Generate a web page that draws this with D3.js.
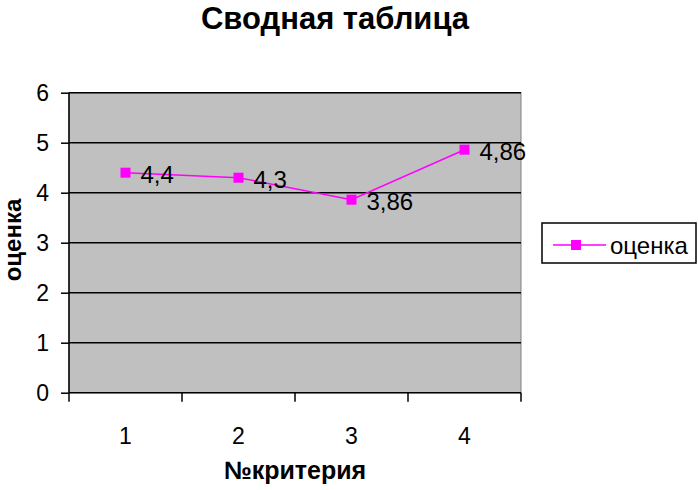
<!DOCTYPE html>
<html><head><meta charset="utf-8">
<script src="https://cdn.jsdelivr.net/npm/d3@7"></script>
<style>body{margin:0;background:#fff}svg{display:block}text{font-family:Arial,"Liberation Sans",sans-serif}</style>
</head><body><svg id="c" width="698" height="490"></svg>
<script>
const categories = ["1","2","3","4"];
const values = [4.4, 4.3, 3.86, 4.86];
const labels = ["4,4","4,3","3,86","4,86"];
const yTicks = [0,1,2,3,4,5,6];
const seriesName = "оценка";

const svg = d3.select("#c");
const L = 69, R = 521, T = 92.7, B = 392.7;
const x = d3.scaleBand().domain(categories).range([L, R]);
const y = d3.scaleLinear().domain([0, 6]).range([B, T]);
const FF = "Arial, 'Liberation Sans', sans-serif";

svg.append("rect").attr("x", L).attr("y", T).attr("width", R - L).attr("height", B - T)
  .attr("fill", "#c0c0c0").attr("stroke", "#808080").attr("stroke-width", 1);

// gridlines
svg.append("g").selectAll("line").data(yTicks.filter(d => d > 0)).join("line")
  .attr("x1", L).attr("x2", R).attr("y1", d => y(d)).attr("y2", d => y(d))
  .attr("stroke", "#000").attr("stroke-width", 1.5);

// y axis
const ya = svg.append("g").attr("transform", `translate(${L},0)`)
  .call(d3.axisLeft(y).tickValues(yTicks).tickFormat(d3.format("d")).tickSize(8).tickPadding(12));
ya.select(".domain").attr("stroke-width", 1.5).attr("d", `M0,${T}V${B}`);
ya.selectAll(".tick line").attr("stroke-width", 1.5);
ya.selectAll("text").attr("font-size", 23).attr("fill", "#000").attr("font-family", FF);

// x axis
const xa = svg.append("g").attr("transform", `translate(0,${B})`)
  .call(d3.axisBottom(x).tickSize(0).tickPadding(35));
xa.select(".domain").attr("stroke-width", 1.5).attr("d", `M${L},0H${R}`);
xa.selectAll("text").attr("font-size", 23).attr("fill", "#000").attr("font-family", FF);
// category boundary ticks
const bounds = categories.map(c => x(c)).concat([x(categories[categories.length - 1]) + x.bandwidth()]);
svg.append("g").selectAll("line").data(bounds).join("line")
  .attr("x1", d => d).attr("x2", d => d).attr("y1", B).attr("y2", B + 9)
  .attr("stroke", "#000").attr("stroke-width", 1.5);

// line
const cx = (d, i) => x(categories[i]) + x.bandwidth() / 2;
const line = d3.line().x((d, i) => cx(d, i)).y(d => y(d));
svg.append("path").datum(values).attr("d", line).attr("fill", "none")
  .attr("stroke", "#ff00ff").attr("stroke-width", 1.5);
svg.append("g").selectAll("rect").data(values).join("rect")
  .attr("x", (d, i) => cx(d, i) - 5).attr("y", d => y(d) - 5)
  .attr("width", 10).attr("height", 10).attr("fill", "#ff00ff");
svg.append("g").selectAll("text").data(values).join("text")
  .attr("x", (d, i) => cx(d, i) + 15).attr("y", d => y(d) + 10)
  .attr("font-size", 24).attr("fill", "#000").text((d, i) => labels[i]);

// titles
svg.append("text").attr("x", 335).attr("y", 29).attr("text-anchor", "middle")
  .attr("font-size", 31).attr("font-weight", "bold").text("Сводная таблица");
svg.append("text").attr("x", 295).attr("y", 479).attr("text-anchor", "middle")
  .attr("font-size", 25).attr("font-weight", "bold").text("№критерия");
svg.append("text").attr("transform", "translate(21,240) rotate(-90)").attr("text-anchor", "middle")
  .attr("font-size", 24).attr("font-weight", "bold").text(seriesName);

// legend
const lg = svg.append("g");
lg.append("rect").attr("x", 542).attr("y", 223).attr("width", 154).attr("height", 40)
  .attr("fill", "#fff").attr("stroke", "#000").attr("stroke-width", 1.5);
lg.append("line").attr("x1", 553).attr("x2", 606).attr("y1", 245).attr("y2", 245)
  .attr("stroke", "#ff00ff").attr("stroke-width", 1.5);
lg.append("rect").attr("x", 571).attr("y", 240).attr("width", 10).attr("height", 10).attr("fill", "#ff00ff");
lg.append("text").attr("x", 610).attr("y", 254).attr("font-size", 24).text(seriesName);
</script></body></html>
